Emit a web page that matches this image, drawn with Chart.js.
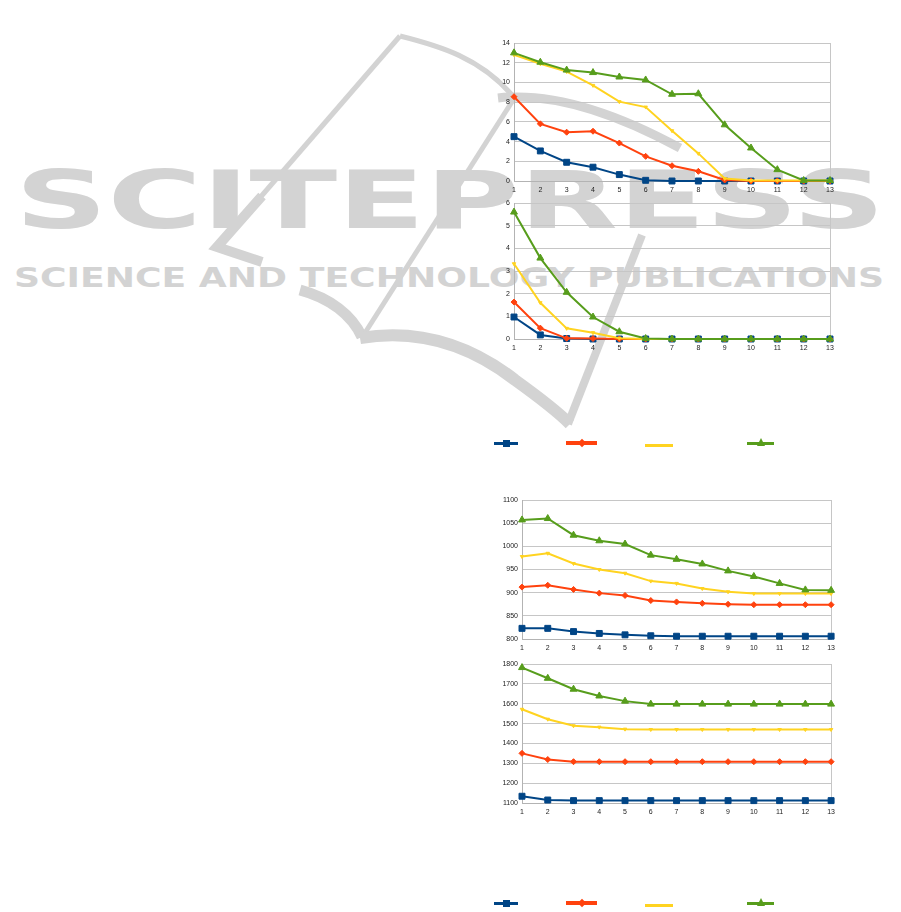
<!DOCTYPE html>
<html><head><meta charset="utf-8">
<script src="https://cdn.jsdelivr.net/npm/chart.js@4"></script>
<style>
html,body{margin:0;padding:0;background:#fff;}
body{width:901px;height:912px;position:relative;overflow:hidden;}
#wm{position:absolute;left:0;top:0;z-index:0;}
canvas{position:absolute;z-index:1;}
.lg{position:absolute;z-index:2;}
</style></head><body>
<svg id="wm" width="901" height="912">
 <g fill="none" stroke="#d3d3d3" stroke-linecap="butt" stroke-linejoin="miter">
  <path d="M400 36 L258 200" stroke-width="5"/>
  <path d="M400 36 C440 46 480 58 512 95" stroke-width="5"/>
  <path d="M262 196 L217 247 L262 262" stroke-width="10"/>
  <path d="M498 98 C550 92 610 110 680 148" stroke-width="9"/>
  <path d="M515 97 L363 336" stroke-width="5"/>
  <path d="M300 290 C330 298 352 315 362 337" stroke-width="11"/>
  <path d="M360 338 C420 328 470 345 515 380 C540 398 558 412 570 424" stroke-width="12"/>
  <path d="M568 424 L642 235" stroke-width="8"/>
 </g>
 <text x="15" y="228" textLength="870" lengthAdjust="spacingAndGlyphs" font-family="DejaVu Sans" font-weight="bold" font-size="80" fill="#d3d3d3">SCITEPRESS</text>
 <text x="14" y="287" textLength="870" lengthAdjust="spacingAndGlyphs" font-family="DejaVu Sans" font-weight="bold" font-size="26" fill="#d3d3d3">SCIENCE AND TECHNOLOGY PUBLICATIONS</text>
</svg>
<canvas id="c1"></canvas>
<canvas id="c2"></canvas>
<canvas id="c3"></canvas>
<canvas id="c4"></canvas>
<script>
// ---- data ----
const categories = ['1','2','3','4','5','6','7','8','9','10','11','12','13'];

const c1Blue   = [4.5, 3.05, 1.9, 1.4, 0.65, 0.07, 0, 0, 0, 0, 0, 0, 0];
const c1Orange = [8.55, 5.8, 4.95, 5.05, 3.85, 2.5, 1.55, 0.98, 0.1, 0, 0, 0, 0];
const c1Yellow = [12.8, 11.9, 11.1, 9.7, 8.05, 7.5, 5.1, 2.8, 0.25, 0.05, 0.05, 0.05, 0.05];
const c1Green  = [13.0, 12.05, 11.25, 11.0, 10.55, 10.25, 8.8, 8.85, 5.7, 3.35, 1.15, 0.05, 0.05];

const c2Blue   = [0.97, 0.18, 0.02, 0, 0, 0, 0, 0, 0, 0, 0, 0, 0];
const c2Orange = [1.63, 0.48, 0.03, 0.02, 0, 0, 0, 0, 0, 0, 0, 0, 0];
const c2Yellow = [3.32, 1.6, 0.47, 0.28, 0.03, 0, 0, 0, 0, 0, 0, 0, 0];
const c2Green  = [5.6, 3.57, 2.06, 0.97, 0.32, 0.02, 0, 0, 0, 0, 0, 0, 0];

const c3Blue   = [823, 823, 816, 812, 809, 807, 806, 806, 806, 806, 806, 806, 806];
const c3Orange = [912, 916, 907, 899, 894, 883, 880, 877, 875, 874, 874, 874, 874];
const c3Yellow = [978, 985, 963, 950, 942, 925, 920, 909, 902, 898, 898, 898, 898];
const c3Green  = [1057, 1060, 1024, 1012, 1005, 981, 972, 962, 947, 935, 920, 906, 905];

const c4Blue   = [1134, 1115, 1112, 1112, 1112, 1112, 1112, 1112, 1112, 1112, 1112, 1112, 1112];
const c4Orange = [1350, 1319, 1308, 1308, 1308, 1308, 1308, 1308, 1308, 1308, 1308, 1308, 1308];
const c4Yellow = [1572, 1522, 1489, 1482, 1472, 1470, 1470, 1470, 1470, 1470, 1470, 1470, 1470];
const c4Green  = [1782, 1728, 1673, 1639, 1613, 1598, 1598, 1598, 1598, 1598, 1598, 1598, 1598];

const c1Ticks = {min: 0, max: 14, step: 2};
const c2Ticks = {min: 0, max: 6, step: 1};
const c3Ticks = {min: 800, max: 1100, step: 50};
const c4Ticks = {min: 1100, max: 1800, step: 100};

// ---- styles ----
const COLORS = {blue:'#004586', orange:'#ff420e', yellow:'#ffd320', green:'#579d1c'};

function series(vals, key){
  const st = {
    blue:   {pointStyle:'rect', pointRadius:4.2, order:4},
    orange: {pointStyle:'rectRot', pointRadius:3, order:3},
    yellow: {pointStyle:'triangle', pointRadius:2, rotation:180, order:2},
    green:  {pointStyle:'triangle', pointRadius:4, order:1}
  }[key];
  return {
    data: vals, borderColor: COLORS[key], backgroundColor: COLORS[key],
    pointBackgroundColor: COLORS[key], pointBorderColor: COLORS[key],
    pointBorderWidth: 1, borderWidth: 2, tension: 0, clip: false,
    pointStyle: st.pointStyle, pointRadius: st.pointRadius, pointRotation: st.rotation || 0,
    pointHoverRadius: st.pointRadius, order: st.order
  };
}

function makeChart(id, geo, ticks, sets){
  const cv = document.getElementById(id);
  const padTop = 10, padBottom = 4, xH = 16;
  const left = 490, width = 350;
  const top = geo.top - padTop;
  const height = geo.bottom - top + xH + padBottom;
  cv.style.left = left + 'px'; cv.style.top = top + 'px';
  cv.width = width; cv.height = height;
  cv.style.width = width + 'px'; cv.style.height = height + 'px';
  const yW = geo.left - left;
  const padRight = left + width - geo.right;
  const last = categories.length - 1;
  new Chart(cv, {
    type: 'line',
    data: {labels: categories, datasets: [
      series(sets[0],'blue'), series(sets[1],'orange'), series(sets[2],'yellow'), series(sets[3],'green')
    ]},
    options: {
      responsive: false, animation: false, devicePixelRatio: 1,
      events: [],
      layout: {padding: {top: padTop, bottom: padBottom, left: 0, right: padRight}},
      plugins: {legend: {display: false}, tooltip: {enabled: false}, title: {display: false}},
      scales: {
        x: {
          offset: false,
          grid: {drawTicks: false, color: c => (c.index === last ? '#c6c6c6' : 'rgba(0,0,0,0)'), lineWidth: 1},
          border: {color: '#b3b3b3', width: 1},
          ticks: {font: {family: 'Liberation Sans', size: 7}, color: '#222', padding: 5, maxRotation: 0, autoSkip: false},
          afterFit: s => { s.height = xH; }
        },
        y: {
          min: ticks.min, max: ticks.max,
          grid: {drawTicks: false, color: '#c6c6c6', lineWidth: 1},
          border: {color: '#b3b3b3', width: 1},
          ticks: {stepSize: ticks.step, font: {family: 'Liberation Sans', size: 7}, color: '#222', padding: 4,
                  callback: v => String(v)},
          afterFit: s => { s.width = yW; }
        }
      }
    }
  });
}

makeChart('c1', {left:514, right:830, top:43, bottom:181}, c1Ticks, [c1Blue, c1Orange, c1Yellow, c1Green]);
makeChart('c2', {left:514, right:830, top:203, bottom:339}, c2Ticks, [c2Blue, c2Orange, c2Yellow, c2Green]);
makeChart('c3', {left:522, right:832, top:500, bottom:639}, c3Ticks, [c3Blue, c3Orange, c3Yellow, c3Green]);
makeChart('c4', {left:522, right:832, top:664, bottom:803}, c4Ticks, [c4Blue, c4Orange, c4Yellow, c4Green]);

// ---- legends (symbols only, as in the reference) ----
const legendKeys = ['blue','orange','yellow','green'];
const legendX = [[494,518],[566,597],[645,673],[747,774]];
const legendRows = [443, 903];
function addDiv(css){ const d = document.createElement('div'); d.className='lg'; Object.assign(d.style, css); document.body.appendChild(d); return d; }
legendRows.forEach(y => {
  legendKeys.forEach((k, i) => {
    const [x0, x1] = legendX[i];
    const c = COLORS[k];
    const th = k === 'orange' ? 4 : 3;
    const yy = k === 'yellow' ? y + 2 : y;
    addDiv({left: x0+'px', top: (yy - th/2)+'px', width: (x1-x0)+'px', height: th+'px', background: c});
    const cx = (x0 + x1) / 2;
    if (k === 'blue') addDiv({left:(cx-3.5)+'px', top:(y-3.5)+'px', width:'7px', height:'7px', background:c});
    if (k === 'orange') addDiv({left:(cx-3)+'px', top:(y-3)+'px', width:'6px', height:'6px', background:c, transform:'rotate(45deg)'});
    if (k === 'green') addDiv({left:(cx-4)+'px', top:(y-5)+'px', width:'0', height:'0', borderLeft:'4px solid transparent', borderRight:'4px solid transparent', borderBottom:'8px solid '+c});
  });
});
</script>
</body></html>
